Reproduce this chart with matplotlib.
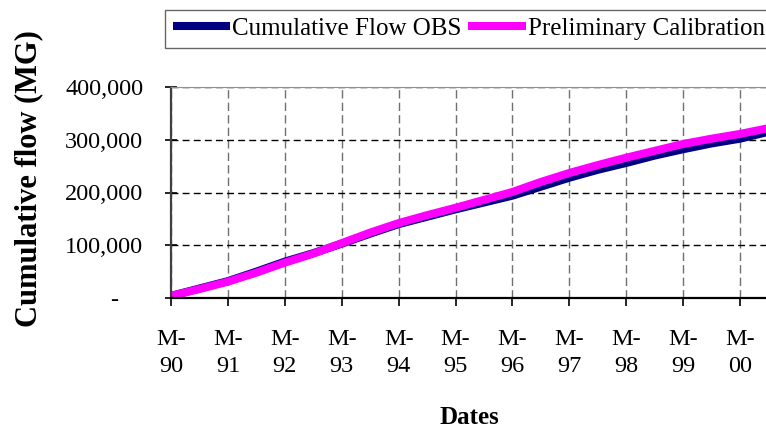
import numpy as np
from matplotlib import pyplot as plt
from matplotlib.ticker import FuncFormatter

plt.rcParams['font.family'] = ['Liberation Serif', 'DejaVu Serif']

# half-yearly readings (MG)
dates = ['1990-01', '1990-07', '1991-01', '1991-07', '1992-01', '1992-07',
         '1993-01', '1993-07', '1994-01', '1994-07', '1995-01', '1995-07',
         '1996-01', '1996-07', '1997-01', '1997-07', '1998-01', '1998-07',
         '1999-01', '1999-07', '2000-01', '2000-07']
flow_obs = [4000, 18000, 32000, 50000, 69000, 85000, 103000, 122000, 140000,
            154000, 168000, 181000, 194000, 211000, 228000, 243000, 256000,
            270000, 282000, 293000, 302000, 315000]
flow_cal = [4000, 17000, 31000, 48000, 67000, 84000, 104000, 124000, 142000,
            157000, 171000, 186000, 201000, 220000, 237000, 252000, 266000,
            279000, 292000, 302000, 311000, 322000]
tick_labels = ['M-\n90', 'M-\n91', 'M-\n92', 'M-\n93', 'M-\n94', 'M-\n95',
               'M-\n96', 'M-\n97', 'M-\n98', 'M-\n99', 'M-\n00']

x = np.array([int(d[:4]) - 1990 + (int(d[5:]) - 1) / 12 for d in dates])

fig = plt.figure(figsize=(7.66, 4.30), dpi=100)
ax = fig.add_axes([171 / 766, 132 / 430, 595 / 766, 211 / 430])

l1, = ax.plot(x, flow_obs, color='#000080', lw=5.8, label='Cumulative Flow OBS',
              solid_capstyle='butt')
l2, = ax.plot(x, flow_cal, color='#FF00FF', lw=5.8, label='Preliminary Calibration',
              solid_capstyle='butt')

ax.set_xlim(0, 595 / 56.9)
ax.set_ylim(0, 400000)
ax.set_xticks(range(len(tick_labels)))
ax.set_xticklabels(tick_labels, linespacing=1.4)
ax.set_yticks([0, 100000, 200000, 300000, 400000])
ax.yaxis.set_major_formatter(FuncFormatter(
    lambda v, p: '-    ' if v == 0 else f'{int(v):,}'))

ax.tick_params(axis='both', labelsize=17.5, colors='black')
ax.tick_params(axis='x', direction='out', length=6, width=1.2, pad=16)
ax.tick_params(axis='y', direction='inout', length=8, width=1.2, pad=16)

ax.grid(axis='y', color='black', linestyle=(0, (5, 3)), linewidth=1)
ax.grid(axis='x', color='#707070', linestyle=(0, (6, 3)), linewidth=1)
ax.set_axisbelow(True)

ax.spines['left'].set_color('#404040')
ax.spines['left'].set_linewidth(1.6)
ax.spines['bottom'].set_color('black')
ax.spines['bottom'].set_linewidth(1.6)
ax.spines['top'].set_color('#909090')
ax.spines['right'].set_visible(False)

fig.text(29 / 766, 1 - 179 / 430, 'Cumulative flow (MG)', rotation=90,
         ha='center', va='center', fontsize=22, fontweight='bold')
fig.text(469 / 766, 1 - 417 / 430, 'Dates', ha='center', va='center',
         fontsize=18, fontweight='bold')

leg = fig.legend(handles=[l1, l2], loc='upper left',
                 bbox_to_anchor=(165 / 766, 1 - 10 / 430), ncol=2,
                 fontsize=18, frameon=True, fancybox=False,
                 handlelength=2.3, handletextpad=0.1, columnspacing=0.25,
                 borderpad=0.3, borderaxespad=0)
leg.get_frame().set_edgecolor('#404040')
leg.get_frame().set_linewidth(1)

plt.savefig('out.png', dpi=100)
